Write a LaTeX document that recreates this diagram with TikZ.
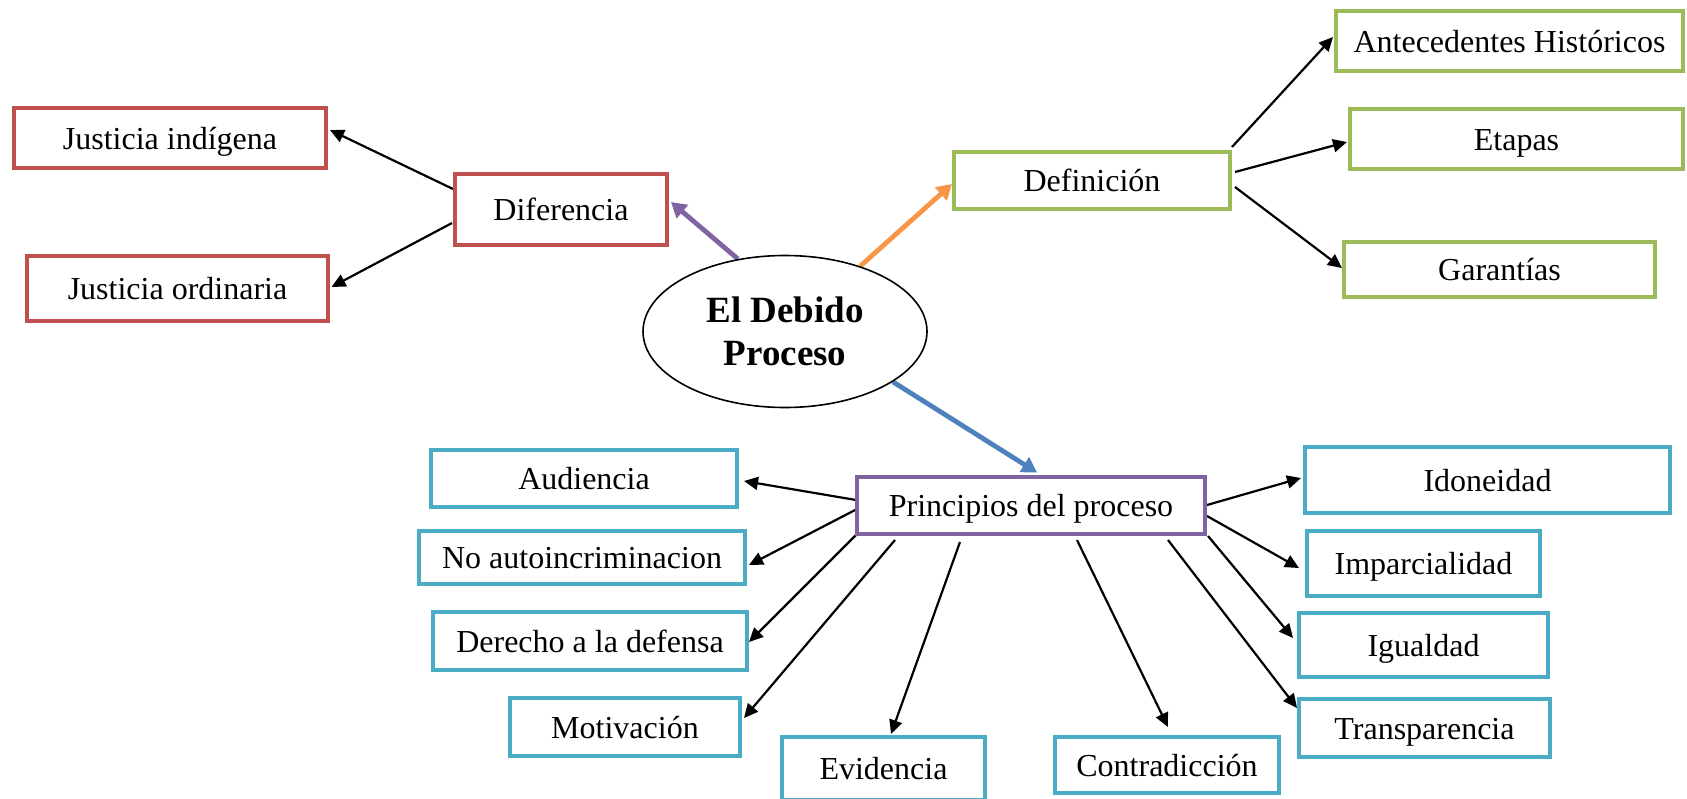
\documentclass[tikz,border=0pt]{standalone}
\usepackage{fontspec}
\setmainfont{Liberation Serif}
\usetikzlibrary{arrows.meta,calc,shapes.geometric}
\definecolor{cred}{HTML}{C0504D}
\definecolor{cgreen}{HTML}{9BBB59}
\definecolor{cteal}{HTML}{4BACC6}
\definecolor{cpurple}{HTML}{8064A2}
\definecolor{corange}{HTML}{F79646}
\definecolor{cblue}{HTML}{4F81BD}
\pgfdeclarelayer{bg}
\pgfsetlayers{bg,main}
\begin{document}
\begin{tikzpicture}[x=0.5pt,y=-0.5pt,
  box/.style={draw, line width=2.2pt, fill=white, inner sep=0pt,
    font=\fontsize{16}{19}\selectfont, text height=12pt, text depth=1pt},
  sz/.style 2 args={minimum width=0.5pt*#1-2.2pt, minimum height=0.5pt*#2-2.2pt},
  redbox/.style={box, draw=cred},
  greenbox/.style={box, draw=cgreen},
  tealbox/.style={box, draw=cteal},
  purplebox/.style={box, draw=cpurple},
  arr/.style={line width=1.1pt, -{Triangle[length=7pt,width=6.5pt]}},
  carr/.style={line width=2.4pt, -{Triangle[length=7.5pt,width=8.5pt]}},
]
\useasboundingbox (0,0) rectangle (1687,798);

% central ellipse
\node[ellipse, draw, line width=0.8pt, fill=white, minimum width=142pt, minimum height=76pt,
  inner sep=0pt, align=center, font=\bfseries\fontsize{18.5}{21.5}\selectfont]
  (dp) at (785,331.5) {El Debido\\Proceso};

% red
\node[redbox, sz={316}{64}] (ji) at (170,138) {Justicia indígena};
\node[redbox, sz={305}{69}] (jo) at (177.5,288.5) {Justicia ordinaria};
\node[redbox, sz={216}{75}] (dif) at (561,209.5) {Diferencia};

% green
\node[greenbox, sz={280}{61}] (def) at (1092,180.5) {Definición};
\node[greenbox, sz={351}{64}] (ant) at (1509.5,41) {Antecedentes Históricos};
\node[greenbox, sz={337}{64}] (eta) at (1516.5,139) {Etapas};
\node[greenbox, sz={315}{59}] (gar) at (1499.5,269.5) {Garantías};

% purple
\node[purplebox, sz={352}{61}] (pri) at (1031,505.5) {Principios del proceso};

% teal
\node[tealbox, sz={310}{61}] (aud) at (584,478.5) {Audiencia};
\node[tealbox, sz={330}{57}] (noa) at (582,557.5) {No autoincriminacion};
\node[tealbox, sz={318}{62}] (der) at (590,641) {Derecho a la defensa};
\node[tealbox, sz={234}{62}] (mot) at (625,727) {Motivación};
\node[tealbox, sz={207}{67}] (evi) at (883.5,768.5) {Evidencia};
\node[tealbox, sz={228}{60}] (con) at (1167,765) {Contradicción};
\node[tealbox, sz={369}{70}] (ido) at (1487.5,480) {Idoneidad};
\node[tealbox, sz={237}{69}] (imp) at (1423.5,563.5) {Imparcialidad};
\node[tealbox, sz={253}{68}] (igu) at (1423.5,645) {Igualdad};
\node[tealbox, sz={255}{62}] (tra) at (1424.5,728) {Transparencia};

\begin{pgfonlayer}{bg}
\fill[white] (0,0) rectangle (1687,798);
% coloured connectors
\draw[carr, draw=cpurple] (dp.123) -- ($(dif.center)+(110,-7.5)$);
\draw[carr, draw=corange] (dp.41) -- ($(def.center)+(-140,3.5)$);
\draw[carr, draw=cblue] (dp.-25) -- ($(pri.center)+(6,-33)$);

% diferencia
\draw[arr] ($(dif.center)+(-108,-20.5)$) -- ($(ji.center)+(160,-8)$);
\draw[arr] ($(dif.center)+(-109,13.5)$) -- ($(jo.center)+(154,-1.5)$);

% definicion
\draw[arr] ($(def.center)+(140,-33.5)$) -- ($(ant.center)+(-176.5,-4)$);
\draw[arr] ($(def.center)+(143,-8.5)$) -- ($(eta.center)+(-169.5,3)$);
\draw[arr] ($(def.center)+(143,6.5)$) -- ($(gar.center)+(-157.5,-1.5)$);

% principios
\draw[arr] ($(pri.center)+(-175,-5.5)$) -- ($(aud.center)+(160,2.5)$);
\draw[arr] ($(pri.center)+(-172,2.5)$) -- ($(noa.center)+(167,7.5)$);
\draw[arr] ($(pri.center)+(-175,29.5)$) -- ($(der.center)+(159,1)$);
\draw[arr] ($(pri.center)+(-136,34.5)$) -- ($(mot.center)+(119,-9)$);
\draw[arr] ($(pri.center)+(-71,36.5)$) -- ($(evi.center)+(7.5,-34.5)$);
\draw[arr] ($(pri.center)+(46,34.5)$) -- ($(con.center)+(1,-38)$);
\draw[arr] ($(pri.center)+(137,34.5)$) -- ($(tra.center)+(-127.5,-20)$);
\draw[arr] ($(pri.center)+(177,30.5)$) -- ($(igu.center)+(-130.5,-7)$);
\draw[arr] ($(pri.center)+(176,10.5)$) -- ($(imp.center)+(-124.5,4.5)$);
\draw[arr] ($(pri.center)+(176,-0.5)$) -- ($(ido.center)+(-186.5,-2)$);
\end{pgfonlayer}
\end{tikzpicture}
\end{document}
